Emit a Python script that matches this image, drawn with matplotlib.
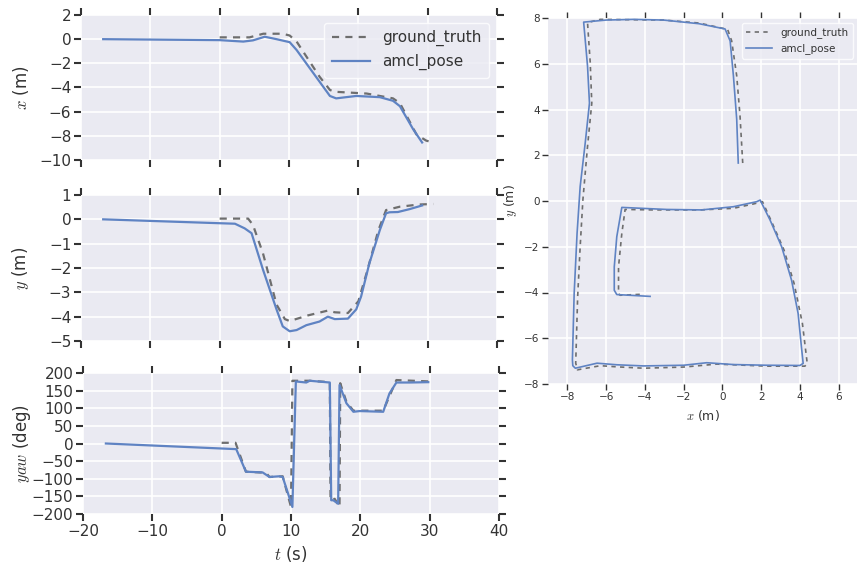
import matplotlib.pyplot as plt

# time series (amcl_pose vs ground_truth)
t_amcl_x = [-16.8, 0, 3.4, 4.8, 6.5, 8.2, 10.1, 11.1, 13.5, 15.9, 16.8, 19.7, 23.1, 25.0, 26.0, 27.9, 29.2]
amcl_x = [0, -0.08, -0.2, -0.1, 0.2, 0.0, -0.25, -0.9, -2.8, -4.7, -4.9, -4.7, -4.8, -5.1, -5.55, -7.45, -8.55]
t_gt_x = [0, 4.3, 6.3, 9.1, 10.1, 11.1, 14.4, 15.9, 16.5, 21.2, 25.0, 26.0, 28.4, 29.8, 30.5]
gt_x = [0.15, 0.15, 0.45, 0.45, 0.3, -0.2, -3.1, -4.2, -4.35, -4.5, -4.9, -5.3, -7.9, -8.4, -8.5]

t_amcl_y = [-16.8, 0, 2.2, 3.6, 4.6, 6.25, 8.2, 9.1, 10.1, 11.1, 12.5, 14.4, 15.6, 16.6, 18.5,
            19.7, 20.4, 21.6, 23.1, 24.0, 24.5, 25.7, 27.4, 29.2]
amcl_y = [0, -0.16, -0.18, -0.37, -0.57, -2.07, -3.7, -4.4, -4.6, -4.55, -4.35, -4.2, -4.0, -4.1, -4.08,
          -3.7, -3.17, -1.8, -0.44, 0.25, 0.29, 0.3, 0.42, 0.57]
t_gt_y = [0, 4.1, 4.8, 6.25, 8.2, 9.4, 10.1, 12.7, 15.6, 16.6, 18.5, 20.0, 21.2, 22.9, 24.0, 26.0, 28.8, 30.8]
gt_y = [0.03, 0.03, -0.23, -1.4, -3.5, -4.1, -4.18, -3.95, -3.75, -3.82, -3.85, -3.37, -2.2, -0.44, 0.38,
        0.52, 0.61, 0.63]

t_amcl_yaw = [-16.7, 2.1, 3.5, 5.9, 6.9, 8.3, 8.8, 10.2, 10.7, 12.2, 12.7, 15.6, 15.8, 16.1, 16.8,
              17.0, 18.0, 19.0, 19.9, 23.3, 24.2, 25.2, 27.1, 29.8]
amcl_yaw = [0, -16, -80, -82, -95, -93, -95, -180, 176, 173, 178, 173, -161, -161, -171,
            166, 114, 90, 92, 90, 142, 173, 173, 174]
t_gt_yaw = [0, 2.0, 3.5, 6.4, 6.9, 8.8, 10.0, 10.2, 12.7, 15.6, 15.7, 16.3, 17.0, 17.1, 18.0,
            19.0, 23.3, 25.2, 30.0]
gt_yaw = [2, 2, -80, -83, -95, -93, -180, 178, 178, 174, -161, -157, -180, 171, 118,
          93, 93, 180, 176]

# xy trajectory
amcl_px = [0.82, 0.74, 0.57, 0.4, 0.14, -1.2, -3.04, -4.59, -6.0, -7.16, -6.96, -6.86, -7.08, -7.34,
           -7.5, -7.65, -7.74, -7.72, -7.59, -6.47, -5.44, -4.07, -2.0, -0.81, 0.57, 2.29, 4.0,
           4.17, 4.08, 3.91, 3.57, 3.06, 2.46, 1.95, 1.77, 0.57, -1.07, -2.87, -5.19, -5.45, -5.58,
           -5.58, -5.45, -3.73]
amcl_py = [1.66, 3.57, 5.47, 7.0, 7.52, 7.75, 7.91, 7.94, 7.91, 7.82, 5.9, 4.28, 2.53, 0.63,
           -1.42, -4.05, -6.94, -7.2, -7.31, -7.09, -7.16, -7.21, -7.18, -7.07, -7.15, -7.18, -7.19,
           -7.1, -6.38, -4.92, -3.46, -2.0, -0.83, 0.04, -0.03, -0.25, -0.39, -0.37, -0.28, -1.56, -2.88,
           -3.9, -4.09, -4.17]
gt_px = [1.05, 0.91, 0.74, 0.48, 0.27, -1.2, -3.04, -6.3, -6.96, -6.82, -6.74, -6.96, -7.2, -7.34,
         -7.47, -7.57, -7.48, -6.3, -5.44, -4.07, -2.01, -0.29, 2.29, 4.26, 4.38, 4.13, 3.7,
         3.18, 2.58, 2.07, 1.6, 0.57, -1.15, -3.56, -5.02, -5.19, -5.36, -5.36, -5.28, -4.24]
gt_py = [1.66, 3.73, 5.47, 7.0, 7.5, 7.78, 7.91, 7.94, 7.8, 6.04, 4.28, 2.38, 0.04, -2.0,
         -4.2, -7.09, -7.38, -7.2, -7.25, -7.31, -7.26, -7.13, -7.22, -7.22, -7.1, -5.35, -3.6,
         -2.14, -0.98, -0.03, -0.13, -0.32, -0.39, -0.39, -0.37, -1.42, -2.88, -4.05, -4.12, -4.08]

BG = '#EAEAF2'
BLUE = '#5f83c3'
GRAY = '#6e6e6e'
TXT = '#333333'

plt.rcParams['mathtext.fontset'] = 'cm'
fig = plt.figure(figsize=(8.57, 5.74), dpi=100)
W, H = 857.0, 574.0


def box(l, t, r, b):
    return [l / W, 1 - b / H, (r - l) / W, (b - t) / H]


def style(ax, fs, tl, tw):
    ax.set_facecolor(BG)
    for s in ax.spines.values():
        s.set_visible(False)
    ax.grid(True, color='white', linewidth=1.2)
    ax.set_axisbelow(True)
    ax.tick_params(which='both', direction='out', length=tl, width=tw, color=TXT,
                   labelsize=fs, labelcolor=TXT, top=True, right=True, pad=2)


ax1 = fig.add_axes(box(81, 15, 497, 160))
ax2 = fig.add_axes(box(81, 195, 497, 341))
ax3 = fig.add_axes(box(83, 373, 499, 514))
ax4 = fig.add_axes(box(548, 18, 858, 384))

d_big = (3.2, 2.8)
ax1.plot(t_gt_x, gt_x, '--', dashes=d_big, color=GRAY, lw=1.6, label='ground_truth')
ax1.plot(t_amcl_x, amcl_x, '-', color=BLUE, lw=1.6, label='amcl_pose')
ax2.plot(t_gt_y, gt_y, '--', dashes=d_big, color=GRAY, lw=1.6)
ax2.plot(t_amcl_y, amcl_y, '-', color=BLUE, lw=1.6)
ax3.plot(t_gt_yaw, gt_yaw, '--', dashes=d_big, color=GRAY, lw=1.6)
ax3.plot(t_amcl_yaw, amcl_yaw, '-', color=BLUE, lw=1.6)

for ax in (ax1, ax2, ax3):
    style(ax, 11, 5, 1.5)
    ax.set_xlim(-20, 40)
    ax.set_xticks(range(-20, 41, 10))
for ax in (ax1, ax2):
    ax.tick_params(labelbottom=False)

ax1.set_ylim(-10, 2)
ax1.set_yticks(range(-10, 3, 2))
ax2.set_ylim(-5, 1)
ax2.set_yticks(range(-5, 2, 1))
ax3.set_ylim(-200, 200)
ax3.set_yticks(range(-200, 201, 50))

ax1.set_ylabel('$x$ (m)', fontsize=12, color=TXT)
ax2.set_ylabel('$y$ (m)', fontsize=12, color=TXT)
ax3.set_ylabel('$yaw$ (deg)', fontsize=12, color=TXT)
ax3.set_xlabel('$t$ (s)', fontsize=12, color=TXT)
for ax in (ax1, ax2, ax3):
    ax.yaxis.set_label_coords(-0.12, 0.5)

leg = ax1.legend(loc='upper right', fontsize=11, frameon=True, facecolor=BG,
                 edgecolor='white', handlelength=2.5, borderpad=0.5)
for txt in leg.get_texts():
    txt.set_color(TXT)

ax4.plot(gt_px, gt_py, '--', dashes=(2.6, 2.6), color=GRAY, lw=1.2, label='ground_truth')
ax4.plot(amcl_px, amcl_py, '-', color=BLUE, lw=1.2, label='amcl_pose')
style(ax4, 7.5, 4, 1.0)
ax4.set_xlim(-9, 7)
ax4.set_ylim(-8, 8)
ax4.set_xticks(range(-8, 7, 2))
ax4.set_yticks(range(-8, 9, 2))
ax4.set_xlabel('$x$ (m)', fontsize=9, color=TXT)
ax4.set_ylabel('$y$ (m)', fontsize=9, color=TXT)
leg4 = ax4.legend(loc='upper right', fontsize=7.5, frameon=True, facecolor=BG,
                  edgecolor='white', handlelength=2.5)
for txt in leg4.get_texts():
    txt.set_color(TXT)

fig.savefig('out.png', dpi=100)
